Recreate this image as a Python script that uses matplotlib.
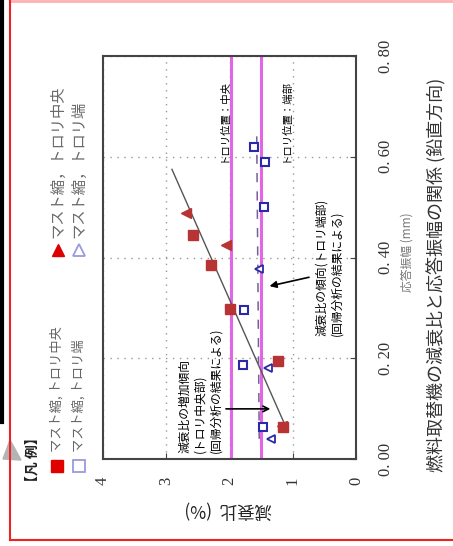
import matplotlib
matplotlib.use('Agg')
import matplotlib.pyplot as plt
from matplotlib.patches import Polygon

plt.rcParams['font.family'] = ['Noto Sans CJK JP', 'DejaVu Sans']

# Data: damping ratio (%) vs response amplitude (mm)
center_sq_damp = [2.58, 2.29, 1.99, 1.23, 1.15]
center_sq_amp = [0.444, 0.386, 0.298, 0.195, 0.064]
center_tri_damp = [2.69, 2.06, 1.17]
center_tri_amp = [0.488, 0.424, 0.066]
end_sq_damp = [1.61, 1.44, 1.45, 1.77, 1.79, 1.47]
end_sq_amp = [0.620, 0.590, 0.500, 0.296, 0.187, 0.064]
end_tri_damp = [1.53, 1.39, 1.34]
end_tri_amp = [0.378, 0.181, 0.040]

# regression lines
fit_center_damp = [1.075, 2.91]
fit_center_amp = [0.054, 0.575]
fit_end_damp = [1.53, 1.57]
fit_end_amp = [0.040, 0.650]

# trolley position reference lines (damping %)
ref_damp = [1.98, 1.50]

damp_ticks = [0, 1, 2, 3, 4]
damp_labels = ['0', '1', '2', '3', '4']
amp_ticks = [0.0, 0.2, 0.4, 0.6, 0.8]
amp_labels = ['0. 00', '0. 20', '0. 40', '0. 60', '0. 80']

RED_DATA = '#b83434'
BLUE_DATA = '#2a2aa8'
MAGENTA = '#e066e6'
FRAME = '#444444'

fig = plt.figure(figsize=(4.53, 5.46), dpi=100)

# full-figure pixel-space axes for decorations, legend, labels
deco = fig.add_axes([0, 0, 1, 1], zorder=-1)
deco.set_xlim(0, 453)
deco.set_ylim(546, 0)
deco.axis('off')

ax = fig.add_axes([103 / 453, 1 - 459 / 546, 253 / 453, 403 / 546])
ax.set_facecolor('white')
ax.set_xlim(4, 0)
ax.set_ylim(0, 0.8)

# grid + frame
ax.grid(True, linestyle=(0, (1, 4)), color='#999999', linewidth=1)
for sp in ax.spines.values():
    sp.set_color(FRAME)
    sp.set_linewidth(1.5)

ax.set_xticks(damp_ticks)
ax.set_xticklabels(damp_labels, rotation=90, fontfamily='Liberation Serif',
                   fontsize=12, color='#333333')
ax.yaxis.tick_right()
ax.set_yticks(amp_ticks)
ax.set_yticklabels(amp_labels, rotation=90, va='center',
                   fontfamily='Liberation Serif', fontsize=12, color='#333333')
ax.tick_params(axis='x', direction='in', length=4, color=FRAME, pad=13)
ax.tick_params(axis='y', direction='in', length=4, color=FRAME, pad=16)

# reference lines
for d in ref_damp:
    ax.axvline(d, color=MAGENTA, linewidth=2.2, zorder=2)

# regression lines
ax.plot(fit_center_damp, fit_center_amp, color='#555555', linewidth=1, zorder=3)
ax.plot(fit_end_damp, fit_end_amp, color='#7a5e9a', linewidth=1.1,
        linestyle=(0, (6, 6)), zorder=3)

# data
ax.plot(center_sq_damp, center_sq_amp, 's', color=RED_DATA, ms=6.5, zorder=4)
ax.plot(center_tri_damp, center_tri_amp, '<', color=RED_DATA, ms=7, zorder=4)
ax.plot(end_sq_damp, end_sq_amp, 's', mfc='white', mec=BLUE_DATA, mew=1.5,
        ms=6, zorder=4)
ax.plot(end_tri_damp, end_tri_amp, '<', mfc='white', mec=BLUE_DATA, mew=1.3,
        ms=5.5, zorder=4)

# annotations
ax.text(2.02, 0.589, 'トロリ位置：中央', rotation=90, rotation_mode='anchor',
        ha='left', va='bottom', fontsize=7.5)
ax.text(1.04, 0.589, 'トロリ位置：端部', rotation=90, rotation_mode='anchor',
        ha='left', va='bottom', fontsize=7.5)
ax.text(0.65, 0.245, '減衰比の傾向(トロリ端部)\n(回帰分析の結果による)',
        rotation=90, rotation_mode='anchor', ha='left', va='top',
        multialignment='left', fontsize=8.5, linespacing=1.3)
ax.text(2.81, 0.012, '減衰比の増加傾向\n(トロリ中央部)\n(回帰分析の結果による)',
        rotation=90, rotation_mode='anchor', ha='left', va='top',
        multialignment='left', fontsize=8.5, linespacing=1.25)
ax.annotate('', xy=(1.31, 0.0995), xytext=(2.10, 0.0995),
            arrowprops=dict(arrowstyle='->', color='black', lw=1.2))
ax.annotate('', xy=(1.41, 0.342), xytext=(0.70, 0.362),
            arrowprops=dict(arrowstyle='-|>', color='black', lw=1.2,
                            mutation_scale=10))

# axis labels and title
deco.text(228, 510, '減衰比  (%)', rotation=180, ha='center', va='center',
          fontsize=12.5, color='#222222')
deco.text(407, 252, '応答振幅 (mm)', rotation=90, ha='center', va='center',
          fontsize=8.5, color='#777777')
deco.text(437, 275, '燃料取替機の減衰比と応答振幅の関係 (鉛直方向)', rotation=90,
          ha='center', va='center', fontsize=13, color='#333333')

# legend
deco.text(33, 460, '【凡 例】', rotation=90, ha='center', va='center',
          fontsize=10, fontweight='bold', color='#222222')
deco.plot(57, 466, 's', color='#e00000', ms=8)
deco.plot(79, 466, 's', mfc='white', mec='#9a9ae0', mew=1.3, ms=8)
deco.plot(58, 250, '^', color='#dd0000', ms=9)
deco.plot(79, 250, '^', mfc='white', mec='#9a9ae0', mew=1.3, ms=9)
deco.text(57, 452, 'マスト縮, トロリ中央', rotation=90, rotation_mode='anchor',
          ha='left', va='center', fontsize=9.5, color='#666666')
deco.text(79, 452, 'マスト縮, トロリ端', rotation=90, rotation_mode='anchor',
          ha='left', va='center', fontsize=9.5, color='#666666')
deco.text(58, 238, 'マスト縮，トロリ中央', rotation=90, rotation_mode='anchor',
          ha='left', va='center', fontsize=11, color='#6a6a6a')
deco.text(79, 238, 'マスト縮，トロリ端', rotation=90, rotation_mode='anchor',
          ha='left', va='center', fontsize=11, color='#6a6a6a')

# page decorations: red frame, black box edge, gray pointer
deco.plot([10, 453], [1, 1], color='#ffb0b0', lw=2)
deco.plot([10, 10], [1, 540], color='#ee2222', lw=1.5)
deco.plot([10, 453], [540, 540], color='#ee2222', lw=1.5)
deco.plot([2, 2], [0, 422], color='black', lw=3)
deco.add_patch(Polygon([(10, 440), (21, 460), (3, 459)], closed=True,
                       color='#b4b4b4'))

fig.savefig('out.png', dpi=100)
